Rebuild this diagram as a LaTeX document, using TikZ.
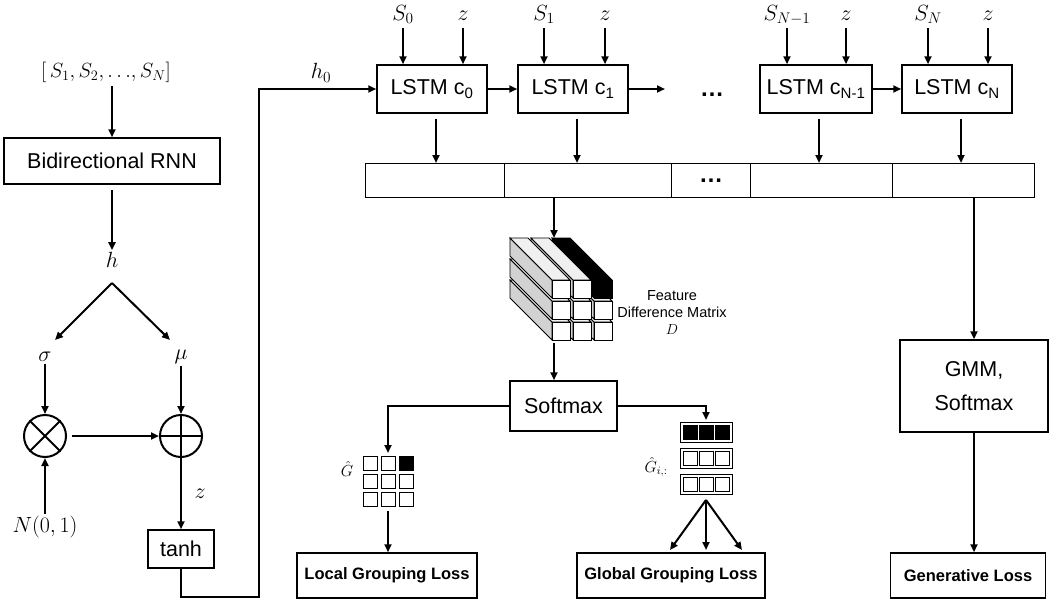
\RequirePackage{fix-cm}
\documentclass[tikz,border=0pt]{standalone}
\usepackage{fontspec}
\setmainfont{Liberation Sans}
\usetikzlibrary{arrows.meta}
\tikzset{
  ln/.style={line width=2pt},
  arr/.style={line width=2pt,-{Stealth[length=8pt,width=7pt,inset=0pt]}},
  box/.style={draw,line width=1.5pt,inner sep=0pt,font=\fontsize{21.5}{25}\selectfont},
  lossbox/.style={draw,line width=1.5pt,inner sep=0pt,minimum height=45pt,font=\bfseries\fontsize{16.5}{20}\selectfont},
  mlab/.style={inner sep=2pt,font=\fontsize{22}{26}\selectfont},
  toplab/.style={inner sep=0pt,text height=15pt,text depth=5pt,font=\fontsize{22}{26}\selectfont},
  slab/.style={inner sep=0pt,font=\fontsize{16}{19}\selectfont},
  cubeline/.style={line width=0.8pt,draw=black},
  cellbox/.style={draw,line width=1pt},
  barcell/.style={draw,line width=1.3pt,minimum height=34pt,inner sep=0pt,anchor=north west},
  dotsty/.style={font=\bfseries\fontsize{24}{26}\selectfont,inner sep=0pt},
  opcircle/.style={circle,draw,line width=2pt,minimum size=42pt,inner sep=0pt},
}
\begin{document}
\begin{tikzpicture}[x=1pt,y=-1pt]
\useasboundingbox (0,0) rectangle (1063,608);

% ---------- left column ----------
\node[mlab,font=\fontsize{20.5}{24}\selectfont] (seq) at (106,72) {$[\,S_1,S_2,{\ldots},S_N]$};
\node[box,minimum width=216pt,minimum height=46pt] (rnn) at (112,161) {Bidirectional RNN};
\coordinate (seqb) at (112,86);
\draw[arr] (seqb) -- (rnn);
\node[mlab] (h) at (112,260) {$h$};
\draw[arr,shorten <=5pt] (rnn) -- (h);
\coordinate (hb) at (112,283);
\coordinate (sa) at (55,340);
\coordinate (ma) at (170,340);
\draw[arr] (hb) -- (sa);
\draw[arr] (hb) -- (ma);
\node[mlab] (sig) at (45,357) {$\sigma$};
\node[mlab] (mu) at (181,357) {$\mu$};
\node[opcircle] (ot) at (45,436) {};
\draw[ln] (ot.north west) -- (ot.south east) (ot.north east) -- (ot.south west);
\node[opcircle] (op) at (181,436) {};
\draw[ln] (op.north) -- (op.south) (op.west) -- (op.east);
\draw[arr] (sig) -- (ot);
\draw[arr] (mu) -- (op);
\draw[arr,shorten <=5pt] (ot) -- (op);
\node[mlab] (n01) at (45,527) {$N(0,1)$};
\draw[arr] (n01) -- (ot);
\node[box,minimum width=66pt,minimum height=38pt] (tanh) at (181,549) {tanh};
\draw[arr] (op) -- (tanh);
\node[mlab] (zl) at (200,494) {$z$};

% ---------- LSTM row ----------
\node[box,minimum width=110pt,minimum height=48pt] (l0) at (432,89) {LSTM c\textsubscript{0}};
\node[box,minimum width=110pt,minimum height=48pt] (l1) at (573,89) {LSTM c\textsubscript{1}};
\node[box,minimum width=112pt,minimum height=48pt] (l2) at (816,89) {LSTM c\textsubscript{N-1}};
\node[box,minimum width=110pt,minimum height=48pt] (l3) at (957,89) {LSTM c\textsubscript{N}};

\coordinate (cA) at (259,597);
\draw[arr] (tanh.south) |- (cA) |- (l0.west);
\node[mlab] (h0) at (321,73) {$h_0$};

\draw[arr] (l0) -- (l1);
\coordinate (l1e) at (665,89);
\draw[arr] (l1) -- (l1e);
\node[dotsty] (dd) at (712,95) {…};
\draw[arr] (l2) -- (l3);

\node[toplab] (s0) at (403,15) {$S_0$};
\node[toplab] (z0) at (463,15) {$z$};
\node[toplab] (s1) at (544,15) {$S_1$};
\node[toplab] (z1) at (605,15) {$z$};
\node[toplab] (s2) at (787,15) {$S_{N-1}$};
\node[toplab] (z2) at (846,15) {$z$};
\node[toplab] (s3) at (928,15) {$S_N$};
\node[toplab] (z3) at (988,15) {$z$};
\draw[arr,shorten <=3pt] (s0) -- (s0 |- l0.north);
\draw[arr,shorten <=3pt] (z0) -- (z0 |- l0.north);
\draw[arr,shorten <=3pt] (s1) -- (s1 |- l1.north);
\draw[arr,shorten <=3pt] (z1) -- (z1 |- l1.north);
\draw[arr,shorten <=3pt] (s2) -- (s2 |- l2.north);
\draw[arr,shorten <=3pt] (z2) -- (z2 |- l2.north);
\draw[arr,shorten <=3pt] (s3) -- (s3 |- l3.north);
\draw[arr,shorten <=3pt] (z3) -- (z3 |- l3.north);

% ---------- output bar ----------
\node[barcell,minimum width=139pt] (b1) at (365,163) {};
\node[barcell,minimum width=167pt] (b2) at (504,163) {};
\node[barcell,minimum width=79pt] (b3) at (671,163) {};
\node[barcell,minimum width=142pt] (b4) at (750,163) {};
\node[barcell,minimum width=142pt] (b5) at (892,163) {};
\node[dotsty] (bd) at (b3.center) {…};

\draw[arr] ([xshift=4pt,yshift=-5pt]l0.south) -- ([xshift=4pt]l0.south |- b1.north);
\draw[arr] ([xshift=4pt,yshift=-5pt]l1.south) -- ([xshift=4pt]l1.south |- b2.north);
\draw[arr] ([xshift=3pt,yshift=-5pt]l2.south) -- ([xshift=3pt]l2.south |- b4.north);
\draw[arr] ([xshift=4pt,yshift=-5pt]l3.south) -- ([xshift=4pt]l3.south |- b5.north);

% ---------- feature difference cube ----------
\foreach \r in {2,1,0}{
  \foreach \c in {2,1,0}{
    \pgfmathsetmacro\xo{552+21*\c}
    \pgfmathsetmacro\yo{280+21*\r}
    \def\lf{gray!35}\def\tf{gray!12}\def\ff{white}
    \ifnum\r=0 \ifnum\c=2 \def\lf{black}\def\tf{black}\def\ff{black}\fi\fi
    \draw[cubeline,fill=\lf] (\xo,\yo) -- ++(-42,-42) -- ++(0,18) -- ++(42,42) -- cycle;
    \draw[cubeline,fill=\tf] (\xo,\yo) -- ++(18,0) -- ++(-42,-42) -- ++(-18,0) -- cycle;
    \draw[cubeline,fill=\ff] (\xo,\yo) rectangle ++(18,18);
  }
}
\coordinate (cubetop) at (554,238);
\coordinate (cubebot) at (554,343);
\draw[arr] (b2.south -| cubetop) -- (cubetop);
\node[align=center,font=\fontsize{14.5}{17}\selectfont] (fdm) at (672,313) {Feature\\Difference Matrix\\$D$};

% ---------- softmax and grouping ----------
\node[box,minimum width=107pt,minimum height=50pt] (sm) at (563.5,406) {Softmax};
\draw[arr] (cubebot) -- (cubebot |- sm.north);

% local grid
\coordinate (lgt) at (388,453);
\draw[arr] (sm.west) -| (lgt);
\foreach \i in {0,1,2}{
  \foreach \j in {0,1,2}{
    \draw[cellbox] (363+18*\i,456+18*\j) rectangle ++(14,14);
  }
}
\fill (399,456) rectangle ++(14,14);
\node[slab] (lg) at (347,469) {$\hat{G}$};
\node[lossbox,minimum width=180pt] (lgl) at (387,575.5) {Local Grouping Loss};
\coordinate (lgb) at (388,511);
\draw[arr] (lgb) -- (lgb |- lgl.north);

% global grid
\coordinate (ggt) at (706,420);
\draw[arr] (sm.east) -| (ggt);
\foreach \j in {0,1,2}{
  \draw[cellbox] (680,422+26*\j) rectangle ++(52,20);
  \foreach \i in {0,1,2}{
    \draw[cellbox] (683+16*\i,425+26*\j) rectangle ++(14,14);
  }
}
\foreach \i in {0,1,2}{ \fill (683+16*\i,425) rectangle ++(14,14); }
\node[slab] (gg) at (656,467) {$\hat{G}_{i,:}$};
\node[lossbox,minimum width=188pt] (ggl) at (671,575.5) {Global Grouping Loss};
\coordinate (ggb) at (706,500);
\coordinate (f1) at (670,550);
\coordinate (f2) at (706,550);
\coordinate (f3) at (742,550);
\draw[arr] (ggb) -- (f1);
\draw[arr] (ggb) -- (f2);
\draw[arr] (ggb) -- (f3);

% ---------- generative branch ----------
\node[box,minimum width=148pt,minimum height=92pt,align=center,font=\fontsize{21.5}{34}\selectfont] (gmm) at (974,386) {GMM,\\Softmax};
\draw[arr] (b5.south -| gmm.north) -- (gmm.north);
\node[lossbox,minimum width=155pt] (gen) at (968,575.5) {Generative Loss};
\draw[arr] (gmm.south) -- (gmm.south |- gen.north);
\end{tikzpicture}
\end{document}
